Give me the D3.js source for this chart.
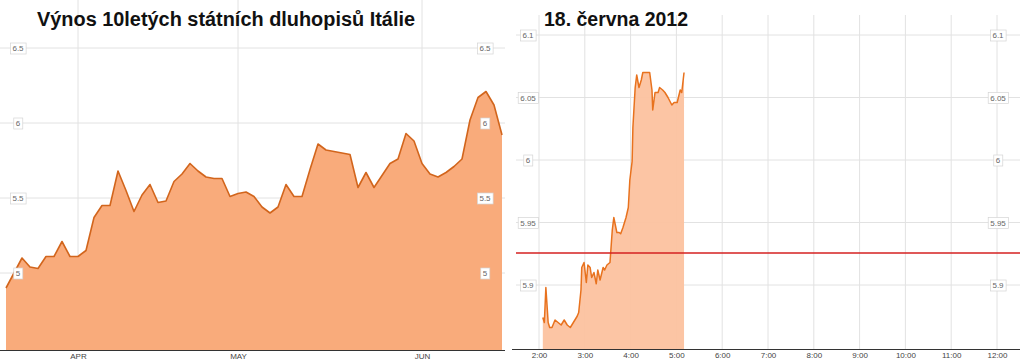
<!DOCTYPE html>
<html><head><meta charset="utf-8">
<script src="https://cdn.jsdelivr.net/npm/d3@7"></script>
<style>
html,body{margin:0;padding:0;background:#fff;}
svg{display:block;font-family:"Liberation Sans",Arial,sans-serif;}
</style></head>
<body>
<svg id="c" width="1024" height="360"></svg>
<script>
// ---- Left panel data (10y Italian bond yield, daily trading days 2012) ----
const leftTitle = "Výnos 10letých státních dluhopisů Itálie";
const leftDates = ["03-20","03-21","03-22","03-23","03-26","03-27","03-28","03-29","03-30",
 "04-02","04-03","04-04","04-05","04-09","04-10","04-11","04-12","04-13","04-16","04-17","04-18","04-19","04-20",
 "04-23","04-24","04-25","04-26","04-27","04-30",
 "05-01","05-02","05-03","05-04","05-07","05-08","05-09","05-10","05-11","05-14","05-15","05-16","05-17","05-18",
 "05-21","05-22","05-23","05-24","05-25","05-28","05-29","05-30","05-31",
 "06-01","06-04","06-05","06-06","06-07","06-08","06-11","06-12","06-13","06-14","06-15"];
const leftValues = [4.90,5.00,5.10,5.04,5.03,5.11,5.11,5.21,5.11,
 5.11,5.15,5.37,5.45,5.45,5.68,5.55,5.41,5.52,5.59,5.47,5.48,5.61,5.66,5.73,5.68,5.64,5.63,5.63,5.51,
 5.53,5.54,5.51,5.44,5.40,5.44,5.59,5.51,5.51,5.69,5.86,5.82,5.81,5.80,5.79,5.57,5.67,5.57,5.65,5.73,5.76,5.93,5.88,
 5.73,5.66,5.64,5.67,5.71,5.76,6.02,6.17,6.21,6.12,5.92];
const leftYTicks = [5, 5.5, 6, 6.5];
const leftXTickDates = ["04-02","05-01","06-01"];
const leftXTickLabels = ["APR","MAY","JUN"];

// ---- Right panel data (intraday 18 June 2012) ----
const rightTitle = "18. června 2012";
const rightTimes = ["2:05","2:07","2:09","2:12","2:14","2:17","2:21","2:25","2:29","2:33","2:37","2:41","2:45","2:50","2:52",
 "2:55","2:56","2:59","3:02","3:04","3:07","3:09","3:12","3:15","3:17","3:20","3:24","3:26","3:29","3:33","3:36","3:38",
 "3:42","3:45","3:47","3:50","3:54","3:57","3:59","4:02","4:03","4:06","4:08","4:11","4:14","4:16","4:21","4:25","4:28",
 "4:29","4:32","4:36","4:38","4:42","4:45","4:49","4:54","4:57","5:01","5:05","5:07","5:10"];
const rightValues = [5.874,5.870,5.898,5.870,5.866,5.866,5.872,5.870,5.868,5.872,5.868,5.866,5.870,5.875,5.878,
 5.896,5.914,5.918,5.902,5.916,5.914,5.906,5.910,5.901,5.912,5.904,5.914,5.912,5.916,5.918,5.944,5.954,
 5.942,5.942,5.941,5.946,5.954,5.962,5.984,5.999,6.026,6.058,6.068,6.058,6.064,6.070,6.070,6.070,6.056,
 6.040,6.054,6.054,6.058,6.056,6.054,6.050,6.044,6.046,6.046,6.056,6.054,6.070];
const rightYTicks = [5.9, 5.95, 6, 6.05, 6.1];
const rightXTickHours = [2,3,4,5,6,7,8,9,10,11,12];
const refLevel = 5.9256;

const svg = d3.select("#c");
const gridColor = "#e2e2e2";

function yLabel(g, x, y, text) {
  const t = g.append("text").attr("x", x).attr("y", y + 3)
    .attr("text-anchor","middle").attr("font-size", 8).attr("fill","#666").text(text);
  const bb = t.node().getBBox();
  g.insert("rect", () => t.node())
    .attr("x", bb.x - 2).attr("y", bb.y - 1).attr("width", bb.width + 4).attr("height", bb.height + 2)
    .attr("fill","#fff").attr("stroke","#d4d4d4").attr("stroke-width",0.7);
}

// ================= LEFT PANEL =================
{
  const g = svg.append("g");
  const bottom = 350;
  const x = d3.scalePoint().domain(leftDates).range([6, 502]);
  const y = d3.scaleLinear().domain([5, 6.5]).range([273, 48]);

  g.selectAll(".hg").data(leftYTicks).join("line")
    .attr("x1", 0).attr("x2", 505).attr("y1", d => y(d)).attr("y2", d => y(d))
    .attr("stroke", gridColor).attr("stroke-width", 1);
  g.selectAll(".vg").data(leftXTickDates).join("line")
    .attr("x1", d => x(d)).attr("x2", d => x(d)).attr("y1", 0).attr("y2", bottom)
    .attr("stroke", gridColor).attr("stroke-width", 1);

  const pts = leftDates.map((d, i) => ({d, v: leftValues[i]}));
  g.append("path").datum(pts)
    .attr("d", d3.area().x(p => x(p.d)).y0(bottom).y1(p => y(p.v)))
    .attr("fill", "#f9a877").attr("fill-opacity", 0.97);
  g.append("path").datum(pts)
    .attr("d", d3.line().x(p => x(p.d)).y(p => y(p.v)))
    .attr("fill", "none").attr("stroke", "#d2651c").attr("stroke-width", 1.6).attr("stroke-linejoin","round");

  g.append("line").attr("x1", 0).attr("x2", 505).attr("y1", bottom + 0.5).attr("y2", bottom + 0.5)
    .attr("stroke", "#333").attr("stroke-width", 1);

  const ax = g.append("g").attr("transform", `translate(0,${bottom})`)
    .call(d3.axisBottom(x).tickValues(leftXTickDates).tickSize(0).tickPadding(3)
      .tickFormat((d) => leftXTickLabels[leftXTickDates.indexOf(d)]));
  ax.select(".domain").remove();
  ax.selectAll("text").attr("font-size", 8).attr("fill", "#444").attr("font-family","Liberation Sans, Arial, sans-serif");

  leftYTicks.forEach(v => { yLabel(g, 18, y(v), d3.format("")(v)); yLabel(g, 485, y(v), d3.format("")(v)); });

  g.append("text").attr("x", 37).attr("y", 26).attr("font-size", 20).attr("font-weight", "bold")
    .attr("textLength", 378).attr("lengthAdjust", "spacingAndGlyphs")
    .attr("fill", "#111").text(leftTitle);
}

// ================= RIGHT PANEL =================
{
  const g = svg.append("g");
  const bottom = 349;
  const parse = d3.timeParse("%H:%M");
  const x = d3.scaleTime().domain([parse("2:00"), parse("12:00")]).range([539, 997]);
  const y = d3.scaleLinear().domain([5.9, 6.1]).range([285, 35]);

  g.selectAll(".hg").data(rightYTicks).join("line")
    .attr("x1", 516).attr("x2", 1020).attr("y1", d => y(d)).attr("y2", d => y(d))
    .attr("stroke", gridColor).attr("stroke-width", 1);
  const hourDates = rightXTickHours.map(h => parse(h + ":00"));
  g.selectAll(".vg").data(hourDates).join("line")
    .attr("x1", d => x(d)).attr("x2", d => x(d)).attr("y1", 15).attr("y2", bottom)
    .attr("stroke", gridColor).attr("stroke-width", 1);

  const pts = rightTimes.map((t, i) => ({t: parse(t), v: rightValues[i]}));
  g.append("path").datum(pts)
    .attr("d", d3.area().x(p => x(p.t)).y0(bottom).y1(p => y(p.v)))
    .attr("fill", "#fcc29f").attr("fill-opacity", 0.95);
  g.append("path").datum(pts)
    .attr("d", d3.line().x(p => x(p.t)).y(p => y(p.v)))
    .attr("fill", "none").attr("stroke", "#e8721e").attr("stroke-width", 1.5).attr("stroke-linejoin","round");

  g.append("line").attr("x1", 516).attr("x2", 1020).attr("y1", y(refLevel)).attr("y2", y(refLevel))
    .attr("stroke", "#d42020").attr("stroke-width", 1.6);

  g.append("line").attr("x1", 512).attr("x2", 1020).attr("y1", bottom + 0.5).attr("y2", bottom + 0.5)
    .attr("stroke", "#333").attr("stroke-width", 1);

  const ax = g.append("g").attr("transform", `translate(0,${bottom})`)
    .call(d3.axisBottom(x).tickValues(hourDates).tickSize(0).tickPadding(3)
      .tickFormat(d3.timeFormat("%-H:%M")));
  ax.select(".domain").remove();
  ax.selectAll("text").attr("font-size", 8).attr("fill", "#444").attr("font-family","Liberation Sans, Arial, sans-serif");

  rightYTicks.forEach(v => { yLabel(g, 528, y(v), d3.format("")(v)); yLabel(g, 998, y(v), d3.format("")(v)); });

  g.append("text").attr("x", 544).attr("y", 26).attr("font-size", 20).attr("font-weight", "bold")
    .attr("textLength", 144).attr("lengthAdjust", "spacingAndGlyphs")
    .attr("fill", "#111").text(rightTitle);
}
</script>
</body></html>
